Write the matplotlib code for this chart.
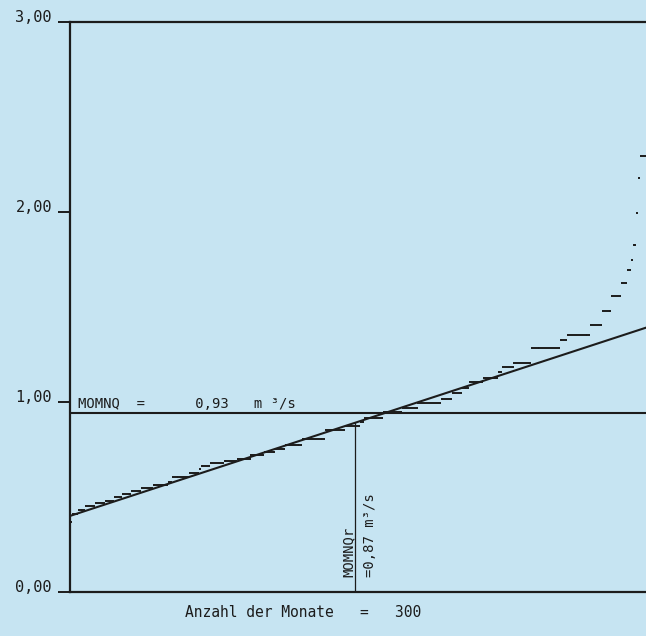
import numpy as np
import matplotlib
matplotlib.use("Agg")
import matplotlib.pyplot as plt

# sorted monthly low flows (m3/s): level values and how many months sit on each level
levels = [0.37, 0.41, 0.43, 0.45, 0.47, 0.48, 0.50, 0.515, 0.53, 0.545,
          0.563, 0.58, 0.606, 0.625, 0.645, 0.66, 0.678, 0.69, 0.70, 0.72,
          0.735, 0.75, 0.775, 0.805, 0.85, 0.875, 0.895, 0.915, 0.945, 0.97,
          0.995, 1.015, 1.045, 1.075, 1.105, 1.125, 1.155, 1.185, 1.205, 1.285,
          1.325, 1.35, 1.405, 1.48, 1.555, 1.625, 1.695, 1.745, 1.825, 1.995,
          2.175, 2.295]
counts = [1, 3, 4, 5, 5, 5, 4, 5, 5, 6,
          8, 2, 9, 5, 1, 5, 7, 7, 7, 7,
          6, 5, 9, 12, 10, 8, 2, 10, 10, 8,
          12, 6, 5, 4, 7, 8, 2, 6, 9, 15,
          4, 12, 6, 5, 5, 3, 2, 1, 2, 1,
          1, 3]

n_months = 300
reg_start = 0.40   # regression line at month 0
reg_end = 1.39     # regression line at month 300
momnq = 0.94
momnq_r = 0.89
momnq_r_month = 148.4

yticks = [0, 1, 2, 3]
ytick_labels = ["0,00", "1,00", "2,00", "3,00"]

bg = "#c6e4f2"
ink = "#1c1c1c"
mono = "DejaVu Sans Mono"

values = np.repeat(levels, counts)
months = np.arange(len(values)) + 0.5

fig = plt.figure(figsize=(6.46, 6.36), dpi=100, facecolor=bg)
ax = fig.add_axes([70/646, 44/636, 1 - 70/646, (592 - 21.5)/636])
ax.set_facecolor(bg)

ax.plot(months, values, ls="none", marker="_", ms=1.5, mew=1.4, color=ink)
ax.plot([0, n_months], [reg_start, reg_end], color=ink, lw=1.5)
ax.axhline(momnq, color=ink, lw=1.5)
ax.plot([momnq_r_month, momnq_r_month], [0, momnq_r], color=ink, lw=0.9)

ax.set_xlim(0, n_months)
ax.set_ylim(0, 3)
ax.set_xticks([])
ax.set_yticks(yticks)
ax.set_yticklabels(ytick_labels, fontfamily=mono, fontsize=11)
for lab in ax.get_yticklabels():
    lab.set_verticalalignment("baseline")
ax.tick_params(axis="y", direction="out", length=9, width=1.4, pad=4, colors=ink)

for side in ["left", "bottom", "top"]:
    ax.spines[side].set_linewidth(1.6)
    ax.spines[side].set_color(ink)
ax.spines["right"].set_visible(False)

ax.text(4, momnq + 0.03, "MOMNQ  =      0,93   m ³/s", fontfamily=mono,
        fontsize=10, color=ink, va="baseline", ha="left")
ax.text(momnq_r_month - 3, 0.08, "MOMNQr", fontfamily=mono, fontsize=10,
        color=ink, rotation=90, ha="center", va="bottom")
ax.text(momnq_r_month + 8, 0.08, "=0,87 m³/s", fontfamily=mono, fontsize=10,
        color=ink, rotation=90, ha="center", va="bottom")

fig.text(303/646, 1 - 617/636, "Anzahl der Monate   =   300", fontfamily=mono,
         fontsize=10.5, color=ink, ha="center", va="baseline")

fig.savefig("out.png", dpi=100, facecolor=bg)
